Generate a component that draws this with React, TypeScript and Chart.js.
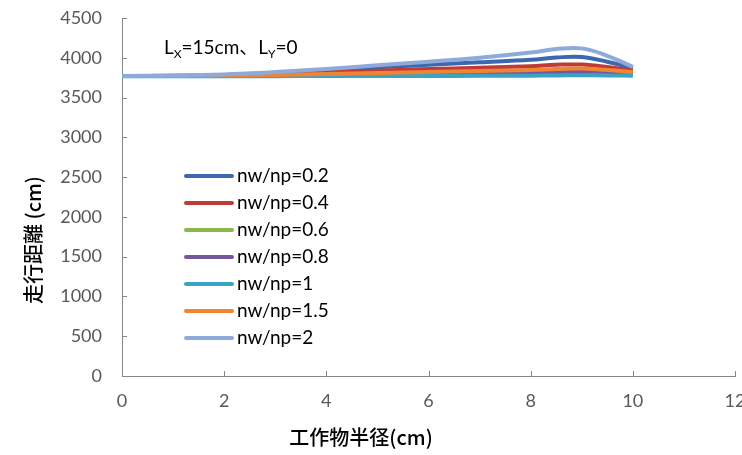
import React, { useEffect, useRef } from "react";
import { Chart, registerables } from "chart.js";

Chart.register(...registerables);

const xValues = [0, 1, 2, 3, 4, 5, 6, 7, 8, 8.5, 9, 9.5, 10];
const seriesLabels = ["nw/np=0.2", "nw/np=0.4", "nw/np=0.6", "nw/np=0.8", "nw/np=1", "nw/np=1.5", "nw/np=2"];
const s02 = [3770, 3773, 3785, 3808, 3838, 3880, 3912, 3943, 3975, 4003, 4010, 3950, 3865];
const s04 = [3770, 3772, 3780, 3795, 3815, 3838, 3858, 3875, 3895, 3912, 3915, 3885, 3840];
const s06 = [3770, 3770, 3774, 3780, 3788, 3797, 3805, 3812, 3818, 3828, 3832, 3820, 3805];
const s08 = [3770, 3770, 3773, 3778, 3785, 3792, 3798, 3804, 3810, 3818, 3820, 3812, 3800];
const s1 = [3768, 3768, 3768, 3769, 3770, 3771, 3772, 3773, 3774, 3778, 3780, 3778, 3774];
const s15 = [3770, 3771, 3776, 3785, 3796, 3810, 3822, 3833, 3846, 3860, 3866, 3846, 3820];
const s2 = [3772, 3776, 3790, 3820, 3860, 3905, 3950, 4000, 4065, 4110, 4118, 4025, 3885];
const seriesValues = [s02, s04, s06, s08, s1, s15, s2];
const seriesColors = ["#3b68b1", "#bf3b35", "#8cb84b", "#7357a0", "#3ba4c5", "#ef8432", "#8eaadb"];
const xTicks = [0, 2, 4, 6, 8, 10, 12];
const yTicks = [0, 500, 1000, 1500, 2000, 2500, 3000, 3500, 4000, 4500];

const numFont = "Lato, 'Noto Sans', sans-serif";
const jpFont = "'Noto Sans CJK JP', sans-serif";

const overlay = {
  id: "overlay",
  afterDraw(chart: any) {
    const { ctx, chartArea, scales } = chart;
    const xs = scales.x;
    const ys = scales.y;
    ctx.save();
    // inward tick marks
    ctx.strokeStyle = "#868686";
    ctx.lineWidth = 1;
    ctx.beginPath();
    xs.ticks.forEach((t: any) => {
      const px = Math.round(xs.getPixelForValue(t.value)) + 0.5;
      ctx.moveTo(px, chartArea.bottom);
      ctx.lineTo(px, chartArea.bottom - 5);
    });
    ys.ticks.forEach((t: any) => {
      const py = Math.round(ys.getPixelForValue(t.value)) + 0.5;
      ctx.moveTo(chartArea.left, py);
      ctx.lineTo(chartArea.left + 5, py);
    });
    ctx.stroke();

    // legend
    const lx = chartArea.left + 64;
    const ly = chartArea.top + 158;
    ctx.font = "19px " + numFont;
    ctx.textBaseline = "middle";
    ctx.textAlign = "left";
    seriesLabels.forEach((lab, i) => {
      const y = ly + i * 27;
      ctx.strokeStyle = seriesColors[i];
      ctx.lineWidth = 4;
      ctx.lineCap = "round";
      ctx.beginPath();
      ctx.moveTo(lx, y);
      ctx.lineTo(lx + 46, y);
      ctx.stroke();
      ctx.fillStyle = "#000000";
      ctx.fillText(lab, lx + 51, y);
    });

    // annotation L_X=15cm、L_Y=0
    let ax = chartArea.left + 42;
    const ay = chartArea.top + 30;
    const parts: [string, boolean][] = [["L", false], ["X", true], ["=15cm、L", false], ["Y", true], ["=0", false]];
    parts.forEach(([txt, sub]) => {
      ctx.font = (sub ? "12px " : "19px ") + "Lato, 'Noto Sans CJK JP', sans-serif";
      ctx.textBaseline = "alphabetic";
      ctx.fillStyle = "#000000";
      ctx.fillText(txt, ax, sub ? ay + 10 : ay + 6);
      ax += ctx.measureText(txt).width;
    });

    // axis titles
    ctx.fillStyle = "#000000";
    ctx.font = "500 20px " + jpFont;
    ctx.textAlign = "center";
    ctx.textBaseline = "middle";
    ctx.fillText("工作物半径(cm)", chartArea.left + (chartArea.right - chartArea.left) * 0.39, 437);
    ctx.translate(33, 240);
    ctx.rotate(-Math.PI / 2);
    ctx.fillText("走行距離 (cm)", 0, 0);
    ctx.restore();
  },
};

export default function App() {
  const ref = useRef<HTMLCanvasElement | null>(null);
  useEffect(() => {
    if (!ref.current) return;
    const chart = new Chart(ref.current, {
      type: "line",
      data: {
        datasets: seriesValues.map((vals, i) => ({
          label: seriesLabels[i],
          data: vals.map((v, j) => ({ x: xValues[j], y: v })),
          borderColor: seriesColors[i],
          backgroundColor: seriesColors[i],
          borderWidth: 4,
          pointRadius: 0,
          tension: 0.4,
          fill: false,
          order: -i,
        })),
      },
      options: {
        responsive: false,
        animation: false,
        layout: { padding: { top: 18, right: 7, left: 8, bottom: 0 } },
        plugins: { legend: { display: false }, tooltip: { enabled: false } },
        scales: {
          x: {
            type: "linear",
            min: 0,
            max: 12,
            afterBuildTicks: (scale: any) => {
              scale.ticks = xTicks.map((v) => ({ value: v }));
            },
            afterFit: (scale: any) => {
              scale.height = 79;
              scale.paddingLeft = 0;
              scale.paddingRight = 0;
            },
            grid: { display: false, drawTicks: false },
            border: { display: true, color: "#868686", width: 1 },
            ticks: {
              padding: 14,
              color: "#595959",
              font: { family: numFont, size: 18 },
              callback: (v: any) => String(v),
            },
          },
          y: {
            type: "linear",
            min: 0,
            max: 4500,
            afterBuildTicks: (scale: any) => {
              scale.ticks = yTicks.map((v) => ({ value: v }));
            },
            afterFit: (scale: any) => {
              scale.width = 114;
              scale.paddingTop = 0;
              scale.paddingBottom = 0;
            },
            grid: { display: false, drawTicks: false },
            border: { display: true, color: "#868686", width: 1 },
            ticks: {
              padding: 20,
              color: "#595959",
              font: { family: numFont, size: 18 },
              callback: (v: any) => String(v),
            },
          },
        },
      },
      plugins: [overlay],
    });
    return () => chart.destroy();
  }, []);
  return (
    <div style={{ position: "absolute", left: 0, top: 0, width: 742, height: 455, background: "#fff" }}>
      <canvas ref={ref} width={742} height={455} />
    </div>
  );
}
